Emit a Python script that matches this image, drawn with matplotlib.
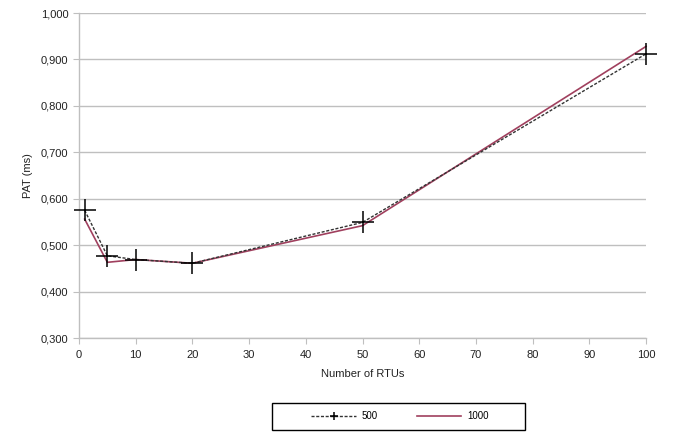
import numpy as np
import matplotlib
matplotlib.use("Agg")
import matplotlib.pyplot as plt
from matplotlib.ticker import FuncFormatter
from matplotlib.patches import Rectangle

rtus = [1, 5, 10, 20, 50, 100]
pat_500 = [0.575, 0.477, 0.469, 0.461, 0.549, 0.912]
pat_1000 = [0.556, 0.463, 0.469, 0.461, 0.542, 0.928]

plt.rcParams['font.family'] = ['Liberation Sans', 'DejaVu Sans']
plt.rcParams['font.size'] = 8

fig = plt.figure(figsize=(6.74, 4.32), dpi=100)
ax = fig.add_axes([79/674, 1 - 338/432, (646 - 79)/674, (338 - 13)/432])

grid_c = '#bfbfbf'
ax.plot(rtus, pat_500, color='#333333', linestyle=(0, (2.2, 1.2)), linewidth=1.0,
        marker='+', markersize=16, markeredgewidth=1.1, markeredgecolor='black',
        label='500', zorder=3, clip_on=False)
ax.plot(rtus, pat_1000, color='#a0405e', linewidth=1.2, label='1000', zorder=2,
        clip_on=False)

ax.set_xlim(0, 100)
ax.set_ylim(0.3, 1.0)
ax.set_xticks(np.arange(0, 101, 10))
ax.set_yticks(np.arange(0.3, 1.001, 0.1))
ax.yaxis.set_major_formatter(FuncFormatter(lambda v, p: f"{v:.3f}".replace('.', ',')))
ax.grid(axis='y', color=grid_c, linewidth=1.0)
ax.grid(axis='x', visible=False)
ax.set_axisbelow(True)

for s in ['top', 'right']:
    ax.spines[s].set_visible(False)
for s in ['left', 'bottom']:
    ax.spines[s].set_color(grid_c)
    ax.spines[s].set_linewidth(1.0)
ax.tick_params(axis='both', colors=grid_c, labelcolor='#222222', length=4, direction='out')
ax.tick_params(axis='x', pad=5)

ax.set_xlabel('Number of RTUs', labelpad=6, color='#222222')
ax.set_ylabel('PAT (ms)', labelpad=6, color='#222222')

# legend frame drawn separately, wider than its content
fig.patches.append(Rectangle((272/674, 2/432), 253/674, 27/432, transform=fig.transFigure,
                             facecolor='white', edgecolor='black', linewidth=1.0, zorder=1))
leg = fig.legend(loc='center', bbox_to_anchor=(400/674, 1 - 416/432), ncol=2, frameon=False,
                 handlelength=4.6, columnspacing=4.0, handletextpad=0.6, markerscale=0.4,
                 fontsize=7)

fig.savefig('out.png', dpi=100)
